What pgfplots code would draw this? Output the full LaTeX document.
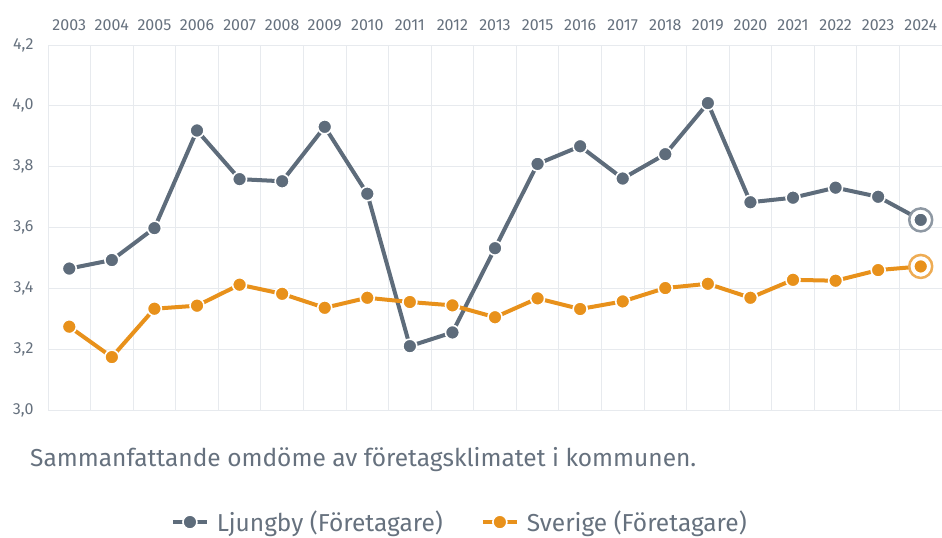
\documentclass[border=0pt]{standalone}
\usepackage{pgfplots}
\pgfplotsset{compat=1.18}
\usepackage{fontspec}
\setmainfont{Fira Sans}
\definecolor{ljc}{HTML}{5E6C7B}
\definecolor{svc}{HTML}{E8911B}
\definecolor{txt}{HTML}{66717E}
\definecolor{gridc}{HTML}{E7EAEE}
\begin{document}
\begin{tikzpicture}
\useasboundingbox (0,0) rectangle (942bp,-538bp);
\begin{axis}[
  at={(48bp,-45bp)}, anchor=north west,
  scale only axis, width=894bp, height=365bp,
  xmin=-0.5, xmax=20.5, ymin=3.0, ymax=4.2,
  xtick={0,...,20},
  xticklabels={2003,2004,2005,2006,2007,2008,2009,2010,2011,2012,2013,2015,2016,2017,2018,2019,2020,2021,2022,2023,2024},
  minor xtick={-0.5,0.5,...,20.5},
  xticklabel pos=upper,
  ytick={3.0,3.2,...,4.21},
  yticklabel style={/pgf/number format/fixed, /pgf/number format/fixed zerofill, /pgf/number format/precision=1, /pgf/number format/use comma, xshift=-11bp},
  /pgf/number format/assume math mode=true,
  axis line style={draw=none},
  major tick length=0pt, minor tick length=0pt,
  xmajorgrids=false, xminorgrids=true, ymajorgrids=true,
  grid style={gridc, line width=0.8bp},
  minor grid style={gridc, line width=0.8bp},
  tick label style={font=\fontsize{16bp}{18bp}\selectfont, text=txt},
  xticklabel style={yshift=11bp},
  clip=false,
  legend style={at={(0.464,-0.307)}, anchor=center, draw=none, fill=none,
    legend columns=2, font=\fontsize{24.5bp}{26bp}\selectfont, text=txt,
    nodes={inner xsep=8bp},
    /tikz/every even column/.append style={column sep=30bp}},
  legend image code/.code={
    \draw[#1, mark=none] (0bp,0bp) -- (34bp,0bp);
    \draw[#1, only marks] plot coordinates {(17bp,0bp)};
  },
]
\addplot[forget plot, only marks, mark=*, mark size=11.5bp, mark options={draw=ljc!70, fill=white, line width=2.5bp}] coordinates {(20,3.625)};
\addplot[forget plot, only marks, mark=*, mark size=11.5bp, mark options={draw=svc!75, fill=white, line width=2.5bp}] coordinates {(20,3.472)};
\addplot[ljc, line width=4bp, mark=*, mark size=7bp, mark options={fill=ljc, draw=white, line width=1.6bp}] coordinates {
(0,3.465) (1,3.493) (2,3.598) (3,3.919) (4,3.759) (5,3.752) (6,3.931) (7,3.711) (8,3.210) (9,3.255)
(10,3.532) (11,3.809) (12,3.867) (13,3.761) (14,3.841) (15,4.009) (16,3.683) (17,3.698) (18,3.731) (19,3.701) (20,3.625)};
\addlegendentry{Ljungby (Företagare)}
\addplot[svc, line width=4bp, mark=*, mark size=7bp, mark options={fill=svc, draw=white, line width=1.6bp}] coordinates {
(0,3.274) (1,3.174) (2,3.333) (3,3.343) (4,3.412) (5,3.382) (6,3.336) (7,3.369) (8,3.355) (9,3.344)
(10,3.305) (11,3.367) (12,3.332) (13,3.357) (14,3.401) (15,3.415) (16,3.369) (17,3.428) (18,3.425) (19,3.460) (20,3.472)};
\addlegendentry{Sverige (Företagare)}
\end{axis}
\node[anchor=west, text=txt, font=\fontsize{24.5bp}{26bp}\selectfont, inner sep=0pt] at (30bp,-460bp) {Sammanfattande omdöme av företagsklimatet i kommunen.};
\end{tikzpicture}
\end{document}
